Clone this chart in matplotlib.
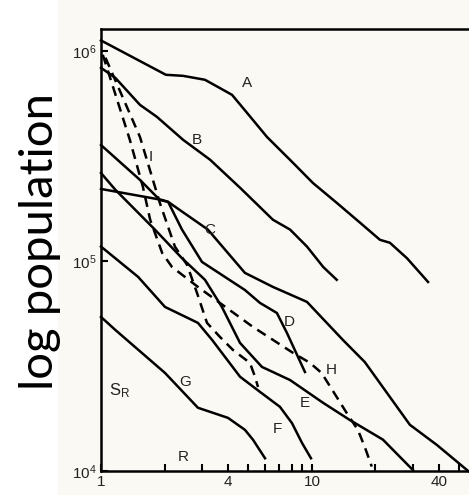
import matplotlib.pyplot as plt
from matplotlib.patches import Rectangle

plt.rcParams['font.family'] = ['Liberation Sans', 'DejaVu Sans']

# rank-size curves (rank, population)
a_rank = [1, 2.03, 2.45, 3.11, 3.79, 4.18, 4.92, 6.12, 8.13, 10.1, 13.1, 16.9, 21.0, 23.4, 28.2, 35.5]
a_pop = [1.12e6, 7.69e5, 7.6e5, 7.28e5, 6.52e5, 6.17e5, 5.07e5, 3.89e5, 2.93e5, 2.35e5,
         1.89e5, 1.52e5, 1.26e5, 1.22e5, 1.03e5, 7.94e4]

b_rank = [1, 1.17, 1.53, 1.84, 2.45, 3.29, 4.56, 6.53, 7.87, 9.47, 11.3, 13.1]
b_pop = [8.3e5, 7.43e5, 5.53e5, 4.85e5, 3.77e5, 3.03e5, 2.23e5, 1.57e5, 1.41e5, 1.17e5, 9.36e4, 8.13e4]

c_rank = [1, 1.53, 1.90, 2.08, 3.21, 4.81, 6.53, 9.47, 14.0, 17.8, 29.1, 39.1, 55]
c_pop = [3.56e5, 2.43e5, 1.95e5, 1.91e5, 1.41e5, 8.77e4, 7.52e4, 6.38e4, 4.21e4, 3.3e4,
         1.66e4, 1.33e4, 1.0e4]

d_rank = [1, 1.95, 2.08, 2.42, 3.01, 4.81, 5.67, 6.82, 7.61, 9.26]
d_pop = [2.2e5, 1.95e5, 1.91e5, 1.41e5, 9.89e4, 7.27e4, 6.31e4, 5.65e4, 4.54e4, 2.96e4]

e_rank = [1, 1.17, 1.80, 2.42, 3.11, 3.74, 4.56, 5.79, 7.87, 11.3, 15.1, 21.7, 30.1]
e_pop = [2.62e5, 2.18e5, 1.41e5, 1.03e5, 8.13e4, 6.04e4, 4.07e4, 3.13e4, 2.71e4, 2.11e4,
         1.75e4, 1.41e4, 1.01e4]

f_rank = [1, 1.50, 2.01, 2.88, 3.36, 4.56, 5.67, 7.05, 8.04, 8.97, 9.89]
f_pop = [1.17e5, 8.39e4, 6.04e4, 5.07e4, 4.21e4, 2.81e4, 2.38e4, 2.02e4, 1.69e4, 1.36e4, 1.15e4]

g_rank = [1, 1.17, 2.01, 2.88, 4.0, 4.81, 5.25, 5.99]
g_pop = [5.41e4, 4.69e4, 2.93e4, 2.0e4, 1.79e4, 1.57e4, 1.41e4, 1.15e4]

h_rank = [1.02, 1.37, 1.58, 1.71, 1.95, 2.17, 2.88, 3.66, 5.25, 8.13, 9.79, 11.1, 13.1,
          14.6, 16.5, 17.8, 19.2]
h_pop = [9.57e5, 3.77e5, 2.25e5, 1.57e5, 1.09e5, 9.36e4, 7.52e4, 6.31e4, 4.85e4, 3.65e4,
         3.27e4, 2.93e4, 2.25e4, 1.89e4, 1.57e4, 1.3e4, 1.05e4]

i_rank = [1.05, 1.53, 1.90, 2.24, 2.56, 2.85, 3.18, 3.66, 4.22, 5.08, 5.37, 5.55]
i_pop = [9.27e5, 3.89e5, 1.89e5, 1.17e5, 9.57e4, 7.05e4, 5.07e4, 4.35e4, 3.77e4, 3.27e4,
         2.81e4, 2.51e4]

x_ticks = [1, 2, 3, 4, 5, 6, 7, 8, 9, 10, 20, 30, 40, 50]
x_labels = ['1', '', '', '4', '', '', '', '', '', '10', '', '', '40', '']
y_ticks = [1e4, 1e5, 1e6]
y_labels = [r'$\mathregular{10^4}$', r'$\mathregular{10^5}$', r'$\mathregular{10^6}$']

fig = plt.figure(figsize=(4.69, 4.95), dpi=100)
fig.patch.set_facecolor('white')
# scanned page tint behind the plot
fig.patches.append(Rectangle((58 / 469, 0), 1, 1, transform=fig.transFigure,
                             color='#fbf9f3', zorder=-5))

ax = fig.add_axes([101 / 469, 24 / 495, 368 / 469, 442 / 495])
ax.set_zorder(2)
ax.set_facecolor('none')
ax.set_xscale('log')
ax.set_yscale('log')
ax.set_xlim(1, 55.5)
ax.set_ylim(1e4, 1.27e6)

solid = [(a_rank, a_pop), (b_rank, b_pop), (c_rank, c_pop), (d_rank, d_pop),
         (e_rank, e_pop), (f_rank, f_pop), (g_rank, g_pop)]
for r, p in solid:
    ax.plot(r, p, color='black', lw=1.8, solid_joinstyle='round', clip_on=False)

for r, p in [(h_rank, h_pop), (i_rank, i_pop)]:
    ax.plot(r, p, color='black', lw=1.8, dashes=(4, 2.6), clip_on=False)

txt = dict(fontsize=11, color='#222222', ha='center', va='center')
ax.text(4.92, 7.05e5, 'A', **txt)
ax.text(2.85, 3.77e5, 'B', **txt)
ax.text(3.29, 1.41e5, 'C', **txt)
ax.text(7.78, 5.13e4, 'D', **txt)
ax.text(9.26, 2.11e4, 'E', **txt)
ax.text(6.82, 1.58e4, 'F', **txt)
ax.text(2.50, 2.66e4, 'G', **txt)
ax.text(12.4, 3.03e4, 'H', **txt)
ax.text(1.73, 3.13e5, 'I', **txt)
ax.text(1.22, 2.40e4, r'$\mathregular{S_R}$', fontsize=12, color='#222222', ha='center', va='center')
ax.text(2.45, 1.17e4, 'R', **txt)

ax.minorticks_off()
ax.set_xticks(x_ticks)
ax.set_xticklabels(x_labels, fontsize=11, color='#222222')
ax.set_yticks(y_ticks)
ax.set_yticklabels(y_labels, fontsize=11, color='#222222')
ax.tick_params(axis='both', direction='in', length=5, width=1.5, pad=3)

for side in ['left', 'bottom', 'top']:
    ax.spines[side].set_linewidth(1.8)
ax.spines['right'].set_visible(False)

fig.text(40 / 469, 1 - 242 / 495, 'log population', family=['Lato', 'DejaVu Sans'],
         fontsize=34, rotation=90, ha='center', va='center', color='black')

fig.savefig('out.png', dpi=100, facecolor=fig.get_facecolor())
